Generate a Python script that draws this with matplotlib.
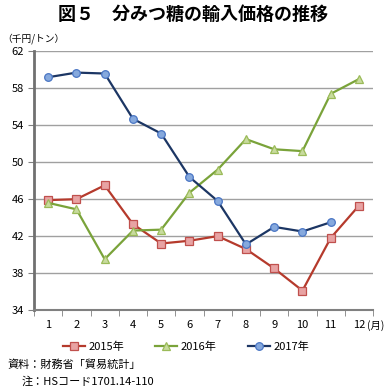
import matplotlib
matplotlib.use("Agg")
import matplotlib.pyplot as plt
import numpy as np

plt.rcParams['font.family'] = ['Noto Sans CJK JP', 'DejaVu Sans']

months = [1, 2, 3, 4, 5, 6, 7, 8, 9, 10, 11, 12]
month_labels = ["1", "2", "3", "4", "5", "6", "7", "8", "9", "10", "11", "12"]
price_2015 = [45.9, 46.0, 47.5, 43.3, 41.2, 41.5, 42.0, 40.6, 38.5, 36.1, 41.8, 45.3]
price_2016 = [45.6, 44.9, 39.5, 42.6, 42.7, 46.7, 49.2, 52.5, 51.4, 51.2, 57.4, 59.0]
price_2017 = [59.2, 59.7, 59.6, 54.7, 53.1, 48.4, 45.8, 41.1, 43.0, 42.5, 43.5]
y_ticks = [34, 38, 42, 46, 50, 54, 58, 62]

fig = plt.figure(figsize=(3.87, 3.89), dpi=100)
ax = fig.add_axes([0.088, 0.203, 0.876, 0.665])

ax.plot(months, price_2015, color="#B53A2C", lw=1.6, marker="s", ms=5.5,
        mfc="#E8A3A3", mec="#C0504D", mew=0.9, label="2015年")
ax.plot(months, price_2016, color="#7AA33A", lw=1.6, marker="^", ms=6,
        mfc="#C8DB9E", mec="#9BBB59", mew=0.9, label="2016年")
ax.plot(months[:11], price_2017, color="#1C3664", lw=1.6, marker="o", ms=5.5,
        mfc="#86A9DD", mec="#4A76C4", mew=0.9, label="2017年")

ax.set_xlim(0.5, 12.5)
ax.set_ylim(34, 62)
ax.set_yticks(y_ticks)
ax.set_xticks(months)
ax.set_xticklabels(month_labels)
ax.set_xticks(np.arange(0.5, 13, 1), minor=True)
ax.tick_params(axis="x", which="major", length=0, labelsize=8, pad=7)
ax.tick_params(axis="x", which="minor", length=4, color="#808080", direction="out")
ax.tick_params(axis="y", length=4, color="#808080", labelsize=8, pad=3)

# unit label next to the last month
ax.annotate("(月)", xy=(12, 0), xycoords=("data", "axes fraction"),
            xytext=(5.5, -7), textcoords="offset points", ha="left", va="top",
            fontsize=7.5)

ax.grid(axis="y", color="#A0A0A0", lw=1.0)
ax.set_axisbelow(True)
for side in ["top", "right"]:
    ax.spines[side].set_visible(False)
ax.spines["left"].set_color("#707070")
ax.spines["left"].set_linewidth(2)
ax.spines["bottom"].set_color("#808080")
ax.spines["bottom"].set_linewidth(1.5)

fig.text(0.5, 0.963, "図５　分みつ糖の輸入価格の推移", ha="center", va="center",
         fontsize=13, fontweight="bold")
fig.text(0.005, 0.9, "（千円/トン）", ha="left", va="center", fontsize=7)

fig.legend(loc="center", bbox_to_anchor=(0.48, 0.108), ncol=3, frameon=False,
           fontsize=8, handlelength=2.0, columnspacing=2.8, handletextpad=0.3)

fig.text(0.02, 0.062, "資料：財務省「貿易統計」", ha="left", va="center", fontsize=8)
fig.text(0.055, 0.02, "注：HSコード1701.14-110", ha="left", va="center", fontsize=8)

fig.savefig("out.png", dpi=100)
